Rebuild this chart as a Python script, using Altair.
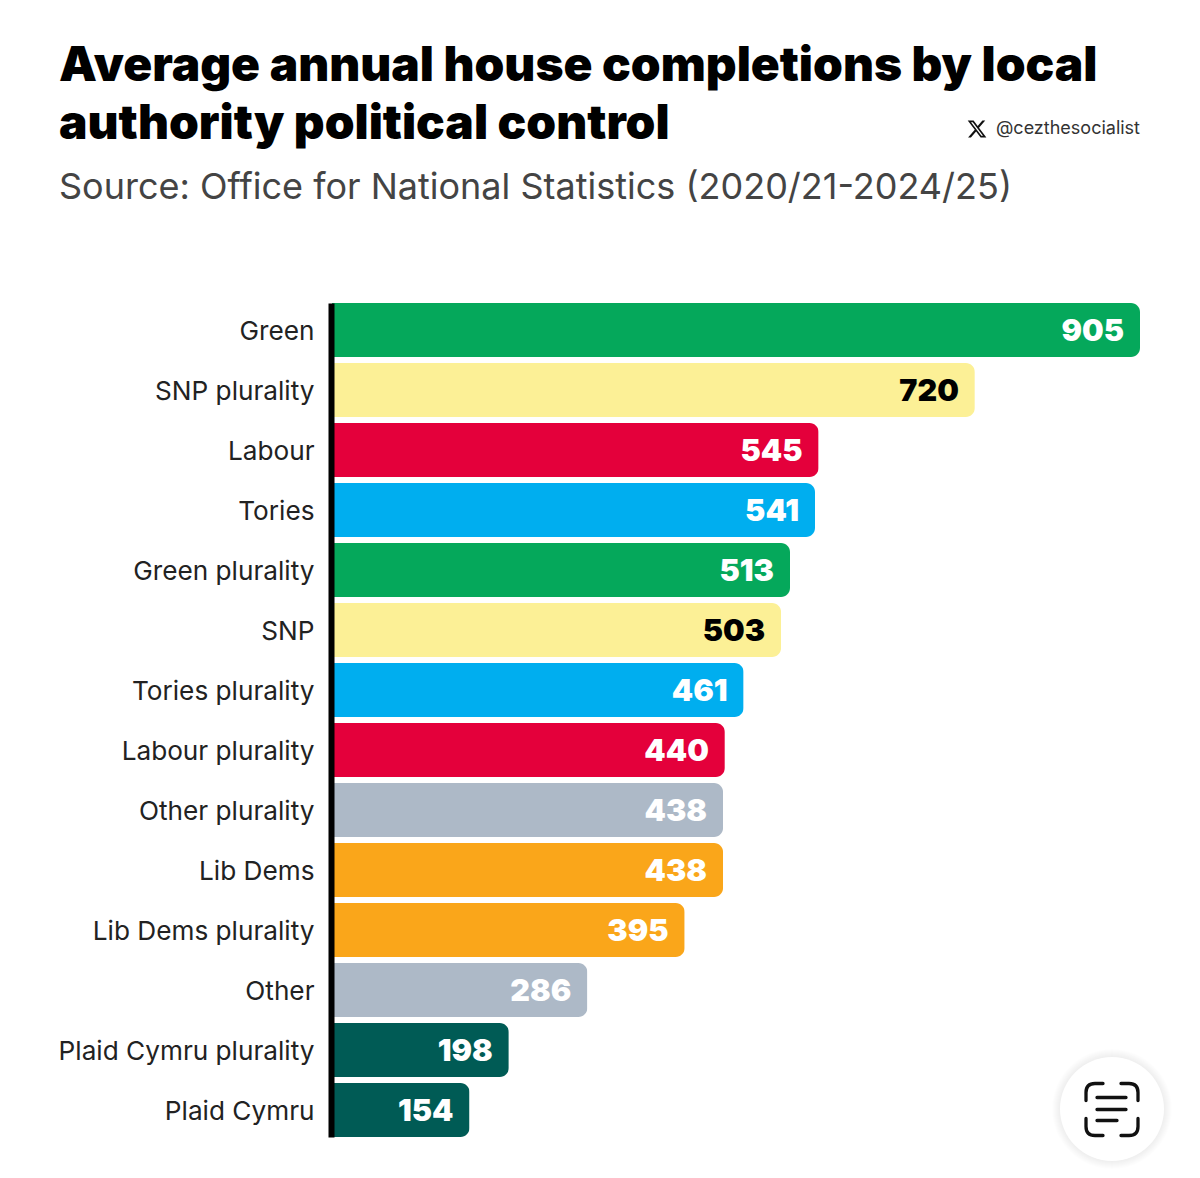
import altair as alt
import pandas as pd

categories = ["Green", "SNP plurality", "Labour", "Tories", "Green plurality", "SNP",
              "Tories plurality", "Labour plurality", "Other plurality", "Lib Dems",
              "Lib Dems plurality", "Other", "Plaid Cymru plurality", "Plaid Cymru"]
values = [905, 720, 545, 541, 513, 503, 461, 440, 438, 438, 395, 286, 198, 154]
parties = ["Green", "SNP", "Labour", "Tories", "Green", "SNP", "Tories", "Labour",
           "Other", "Lib Dems", "Lib Dems", "Other", "Plaid Cymru", "Plaid Cymru"]
party_names = ["Green", "SNP", "Labour", "Tories", "Other", "Lib Dems", "Plaid Cymru"]
party_colors = ["#05A85B", "#FCF096", "#E4003B", "#00AEEF", "#ADB9C7", "#FAA61A", "#005B55"]

df = pd.DataFrame({"category": categories, "value": values, "party": parties})

FONT = "Inter"
LEFT, TOP = 332, 303
W, H = 808, 834


def px(x):
    return alt.value(x - LEFT)


def py(y):
    return alt.value(y - TOP)


one = alt.Data(values=[{"a": 1}])

y_enc = alt.Y("category:N", sort=categories, title=None,
              scale=alt.Scale(paddingInner=0.1, paddingOuter=0),
              axis=alt.Axis(domainColor="#000000", domainWidth=6, ticks=False, offset=1, zindex=1,
                            labelPadding=17, labelFont=FONT, labelFontSize=26.2, labelBaseline="middle",
                            labelOffset=2, labelColor="#222222", labelLimit=320))
x_enc = alt.X("value:Q", title=None, axis=None,
              scale=alt.Scale(domain=[0, 905], nice=False))

bars = alt.Chart(df).mark_bar(cornerRadiusEnd=9).encode(
    x=x_enc, y=y_enc,
    color=alt.Color("party:N", legend=None,
                    scale=alt.Scale(domain=party_names, range=party_colors)))

labels = alt.Chart(df).mark_text(align="right", baseline="middle", dx=-16, dy=2, font=FONT,
                                 fontSize=30.5, fontWeight=900).encode(
    x=x_enc, y=y_enc, text="value:Q",
    color=alt.condition("datum.party === 'SNP'", alt.value("#000000"), alt.value("#FFFFFF")))


def text(s, x, y, size, color, weight=400, align="left"):
    return alt.Chart(one).mark_text(align=align, baseline="alphabetic", font=FONT, fontSize=size,
                                    fontWeight=weight, color=color).encode(
        x=px(x), y=py(y), text=alt.value(s))


title1 = text("Average annual house completions by local", 59, 81, 47.8, "#000000", 900)
title2 = text("authority political control", 59, 139, 47.8, "#000000", 900)
subtitle = text("Source: Office for National Statistics (2020/21-2024/25)", 59, 199, 36, "#444444")
handle = text("@cezthesocialist", 1140, 134, 18, "#333333", 400, "right")

X_PATH = ("M6.244 -9.75h3.308l-7.227 8.26 8.502 11.24H4.17l-5.214 -6.817L-7.01 9.75H-10.32"
          "l7.73 -8.835L-10.746 -9.75H-3.92l4.713 6.231zM5.083 7.77h1.833L-4.916 -7.874H-6.883z")
x_logo = alt.Chart(one).mark_point(shape=X_PATH, size=3, filled=True, color="#111111", opacity=1).encode(
    x=px(977), y=py(129))

shadows = [
    alt.Chart(one).mark_circle(size=4 * r * r, color="#000000", opacity=0.006).encode(
        x=px(1112), y=py(1109))
    for r in (60, 59, 58, 57, 56, 55, 54, 53)
]
disc = alt.Chart(one).mark_circle(size=4 * 52 * 52, color="#FFFFFF", opacity=1).encode(
    x=px(1112), y=py(1109))

ICON_PATH = ("M-9 -26H-17Q-26 -26 -26 -17V-9M9 -26H17Q26 -26 26 -17V-9"
             "M-26 9V17Q-26 26 -17 26H-9M26 9V17Q26 26 17 26H9"
             "M-15 -12H14M-15 0H14M-15 11H5")
icon = alt.Chart(one).mark_point(shape=ICON_PATH, size=4, filled=False, color="#111111",
                                 strokeWidth=3.3, opacity=1, strokeCap="round").encode(
    x=px(1112), y=py(1109.5))

chart = alt.layer(bars, labels, title1, title2, subtitle, handle, x_logo, *shadows, disc, icon).properties(
    width=W, height=H, background="#FFFFFF",
    autosize=alt.AutoSizeParams(type="none"),
    padding={"left": LEFT - 8, "top": TOP - 8, "right": 52, "bottom": 32},
).configure_view(stroke=None)

chart.save("out.html", embed_options={"renderer": "svg", "actions": False})
